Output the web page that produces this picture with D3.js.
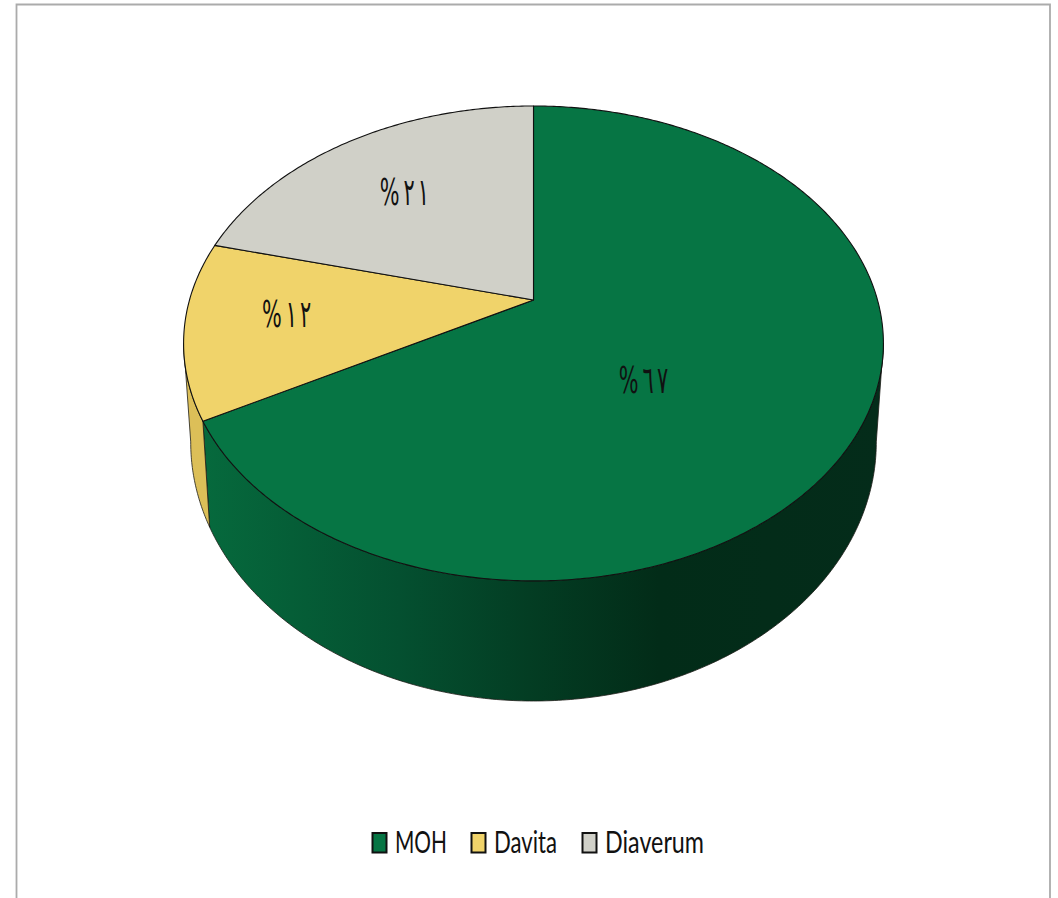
<!DOCTYPE html>
<html>
<head>
<meta charset="utf-8">
<script src="https://cdn.jsdelivr.net/npm/d3@7"></script>
<style>
html, body { margin: 0; padding: 0; background: #fff; }
svg { display: block; }
</style>
</head>
<body>
<div id="chart"></div>
<script>
const categories = ['MOH', 'Davita', 'Diaverum'];
const values = [67, 12, 21];
const valueLabels = ['%٦٧', '%١٢', '%٢١'];
const colors = ['#067544', '#f0d36a', '#d0d0c8'];
const sideColors = ['#06653a', '#dcbf58', '#b8b8b0'];

const width = 1058;
const height = 898;

// the picture is a tilted pie, so the circle goes through a perspective map
const cx = 533.5;
const persp = 0.183;
const topFace = { a: 344, b: 229.5, y0: 300 };
const baseFace = { a: 337, b: 250, y0: 395 };
// where the outline of the cylinder leaves the top face
const wallStart = Math.PI * 0.558;
const wallEnd = Math.PI * 1.442;

function project(face, angle, r = 1) {
	const u = Math.sin(angle) * r;
	const v = -Math.cos(angle) * r;
	const w = 1 - persp * v;
	return [cx + (face.a * u) / w, face.y0 + (face.b * v) / w];
}

// arc sampled into points
function arcPoints(face, start, end) {
	const n = Math.max(2, Math.ceil(Math.abs(end - start) / 0.01));
	return d3.range(n + 1).map((i) => project(face, start + ((end - start) * i) / n));
}

const line = d3.line();

const svg = d3
	.select('#chart')
	.append('svg')
	.attr('width', width)
	.attr('height', height);

const defs = svg.append('defs');
const grad = defs
	.append('linearGradient')
	.attr('id', 'sideGreen')
	.attr('gradientUnits', 'userSpaceOnUse')
	.attr('x1', 200)
	.attr('x2', 885)
	.attr('y1', 0)
	.attr('y2', 0);
[
	[0, '#066a3d'],
	[0.29, '#045030'],
	[0.48, '#033d23'],
	[0.67, '#022c18'],
	[1, '#042c1a'],
].forEach((d) => grad.append('stop').attr('offset', d[0]).attr('stop-color', d[1]));

// marco del gráfico
svg
	.append('path')
	.attr('d', line([[16.5, height], [16.5, 4.5], [1050, 4.5], [1050, height]]))
	.attr('fill', 'none')
	.attr('stroke', '#ababab')
	.attr('stroke-width', 1.8);

const pie = d3.pie().sort(null).value((d) => d);
const arcs = pie(values);

// side wall: only the front of the ring is visible
const g = svg.append('g');
arcs.forEach((d, i) => {
	const start = Math.max(d.startAngle, wallStart);
	const end = Math.min(d.endAngle, wallEnd);
	if (end <= start) return;
	const pts = arcPoints(topFace, start, end).concat(arcPoints(baseFace, end, start));
	g.append('path')
		.attr('d', line(pts) + 'Z')
		.attr('fill', i === 0 ? 'url(#sideGreen)' : sideColors[i])
		.attr('stroke', '#1c1c16')
		.attr('stroke-width', 0.8);
});

// top face
arcs.forEach((d, i) => {
	const pts = [[cx, topFace.y0]].concat(arcPoints(topFace, d.startAngle, d.endAngle));
	g.append('path')
		.attr('d', line(pts) + 'Z')
		.attr('fill', colors[i])
		.attr('stroke', '#111')
		.attr('stroke-width', 1.1)
		.attr('stroke-linejoin', 'round');
});

// value labels
const labelRadius = [0.34, 0.73, 0.73];
const labelShiftX = [6, 6.5, 10];
const labelShiftY = [52, 5.6, 25];
arcs.forEach((d, i) => {
	const mid = (d.startAngle + d.endAngle) / 2;
	const p = project(topFace, mid, labelRadius[i]);
	g.append('text')
		.attr('transform', `translate(${p[0] + labelShiftX[i]},${p[1] + labelShiftY[i]}) scale(0.8,1.45)`)
		.attr('text-anchor', 'middle')
		.attr('direction', 'ltr')
		.attr('unicode-bidi', 'bidi-override')
		.attr('font-family', '"DejaVu Sans", sans-serif')
		.attr('font-size', 26)
		.attr('dx', '0 5 4')
		.attr('fill', '#111')
		.text(valueLabels[i]);
});

// legend
const legendX = [372.5, 471.5, 582.5];
const legendTextWidth = [52, 63, 99];
const legend = svg
	.append('g')
	.selectAll('g')
	.data(categories)
	.enter()
	.append('g')
	.attr('transform', (d, i) => `translate(${legendX[i]},833)`);
legend
	.append('rect')
	.attr('width', 14)
	.attr('height', 19.5)
	.attr('fill', (d, i) => colors[i])
	.attr('stroke', '#111')
	.attr('stroke-width', 2);
legend
	.append('text')
	.attr('x', 22.5)
	.attr('y', 20)
	.attr('textLength', (d, i) => legendTextWidth[i])
	.attr('lengthAdjust', 'spacingAndGlyphs')
	.attr('font-family', 'Lato, sans-serif')
	.attr('font-size', 31)
	.attr('fill', '#111')
	.text((d) => d);
</script>
</body>
</html>
